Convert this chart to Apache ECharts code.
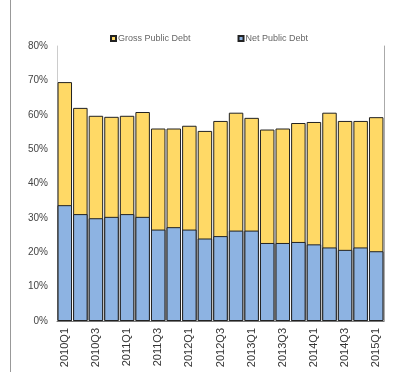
<!DOCTYPE html>
<html>
<head>
<meta charset="utf-8">
<script src="https://cdn.jsdelivr.net/npm/echarts@6/dist/echarts.min.js"></script>
<style>
  html, body { margin: 0; padding: 0; background: #fff; }
  #chart { width: 409px; height: 375px; }
</style>
</head>
<body>
<div id="chart"></div>
<script>
// 季度
const quarters = ['2010Q1', '2010Q2', '2010Q3', '2010Q4', '2011Q1', '2011Q2', '2011Q3', '2011Q4',
    '2012Q1', '2012Q2', '2012Q3', '2012Q4', '2013Q1', '2013Q2', '2013Q3', '2013Q4',
    '2014Q1', '2014Q2', '2014Q3', '2014Q4', '2015Q1'];
// 总公共债务 (%)
const grossDebt = [69.5, 62.0, 59.7, 59.4, 59.7, 60.8, 56.0, 56.0, 56.8, 55.3, 58.2,
    60.6, 59.1, 55.7, 56.0, 57.6, 57.9, 60.6, 58.2, 58.2, 59.3];
// 净公共债务 (%)
const netDebt = [33.7, 31.1, 29.9, 30.3, 31.1, 30.3, 26.6, 27.3, 26.6, 24.0, 24.7,
    26.3, 26.3, 22.7, 22.7, 23.0, 22.3, 21.4, 20.7, 21.4, 20.3];

const myChart = echarts.init(document.getElementById('chart'));

const option = {
    animation: false,
    textStyle: { fontFamily: 'Liberation Sans, Arial, sans-serif' },
    legend: {
        top: 29,
        left: 105,
        itemGap: 47,
        itemWidth: 5,
        itemHeight: 5,
        icon: 'rect',
        textStyle: { fontSize: 9, color: '#666', padding: [0, 0, 0, -3] },
        data: ['Gross Public Debt', 'Net Public Debt']
    },
    grid: { left: 57, right: 25, top: 46, bottom: 54 },
    xAxis: {
        type: 'category',
        data: quarters,
        axisLine: { lineStyle: { color: '#777' } },
        axisTick: { show: false },
        axisLabel: { rotate: 90, interval: 1, fontSize: 11, color: '#333', margin: 7 }
    },
    yAxis: [{
        type: 'value',
        min: 0,
        max: 80,
        interval: 10,
        axisLine: { show: true, lineStyle: { color: '#ccc' } },
        axisTick: { show: false },
        splitLine: { show: false },
        axisLabel: { formatter: '{value}%', fontSize: 10, color: '#444', margin: 9 }
    }, {
        type: 'value',
        min: 0,
        max: 80,
        interval: 10,
        position: 'right',
        axisLine: { show: true, lineStyle: { color: '#aaa' } },
        axisTick: { show: false },
        splitLine: { show: false },
        axisLabel: { show: false }
    }],
    graphic: [{
        type: 'line',
        shape: { x1: 10.5, y1: 0, x2: 10.5, y2: 372 },
        style: { stroke: '#999', lineWidth: 1 }
    }],
    series: [{
        name: 'Gross Public Debt',
        type: 'bar',
        data: grossDebt,
        barCategoryGap: '7%',
        barGap: '-100%',
        itemStyle: { color: '#FFD966', borderColor: '#222', borderWidth: 1 }
    }, {
        name: 'Net Public Debt',
        type: 'bar',
        data: netDebt,
        barCategoryGap: '7%',
        barGap: '-100%',
        itemStyle: { color: '#8DB3E2', borderColor: '#222', borderWidth: 1 }
    }]
};

myChart.setOption(option);
</script>
</body>
</html>
